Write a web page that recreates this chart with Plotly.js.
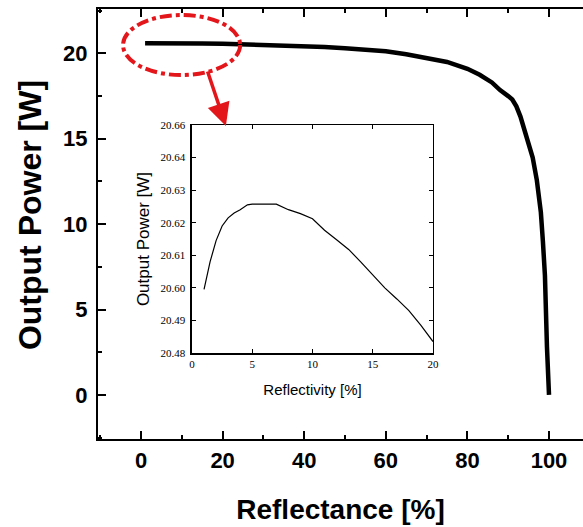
<!DOCTYPE html>
<html>
<head>
<meta charset="utf-8">
<script src="https://cdn.plot.ly/plotly-3.0.1.min.js"></script>
<style>html,body{margin:0;padding:0;background:#fff;}#chart{width:583px;height:527px;}</style>
</head>
<body>
<div id="chart"></div>
<script>
// Main curve: output power vs reflectance
const reflectance = [1, 5, 10, 15, 20, 25, 30, 35, 40, 45, 50, 55, 60, 65, 70, 75, 80, 83, 86, 88, 90, 91, 92, 93, 94, 95, 96, 97, 98, 98.5, 99, 99.5, 100];
const outputPower = [20.6, 20.61, 20.6, 20.58, 20.56, 20.53, 20.5, 20.47, 20.43, 20.38, 20.3, 20.22, 20.12, 19.95, 19.75, 19.5, 19.1, 18.75, 18.3, 17.85, 17.5, 17.3, 16.9, 16.3, 15.5, 14.7, 13.9, 12.6, 10.7, 9.0, 7.0, 2.8, 0];

// Inset: output power vs reflectivity (zoomed)
const reflectivity = [1, 1.5, 2, 2.5, 3, 3.5, 4, 4.6, 5, 6, 7, 8, 9, 10, 11, 12, 13, 14, 15, 16, 17, 18, 19, 20];
const insetPower = [20.5995, 20.608, 20.6145, 20.619, 20.6215, 20.623, 20.624, 20.6255, 20.6257, 20.6257, 20.6257, 20.624, 20.6228, 20.6212, 20.6177, 20.6148, 20.6118, 20.608, 20.604, 20.6, 20.5966, 20.593, 20.5885, 20.5835];

// Tick labels
const mainXTicks = [0, 20, 40, 60, 80, 100];
const mainYTicks = [0, 5, 10, 15, 20];
const insetXTicks = [0, 5, 10, 15, 20];
const insetYTickVals = [20.58, 20.59, 20.60, 20.61, 20.62, 20.63, 20.64, 20.65];
const insetYTickText = ["20.48", "20.49", "20.60", "20.61", "20.62", "20.63", "20.64", "20.66"];

const red = "#e3161b";
const sans = "Liberation Sans, Arial, sans-serif";

const traces = [
  {x: reflectance, y: outputPower, type: "scatter", mode: "lines",
   line: {color: "#000", width: 4.5}, xaxis: "x", yaxis: "y", hoverinfo: "skip"},
  {x: reflectivity, y: insetPower, type: "scatter", mode: "lines",
   line: {color: "#000", width: 1.2}, xaxis: "x2", yaxis: "y2", hoverinfo: "skip"}
];

const layout = {
  width: 583, height: 527,
  margin: {l: 98, r: 0, t: 9, b: 88},
  paper_bgcolor: "#fff", plot_bgcolor: "#fff",
  showlegend: false,
  font: {family: sans, color: "#000"},
  xaxis: {
    domain: [0, 1], range: [-10.54, 108.33],
    tickvals: mainXTicks, ticktext: mainXTicks.map(String),
    ticks: "inside", ticklen: 8, tickwidth: 2, tickcolor: "#000",
    minor: {dtick: 10, tick0: 0, ticks: "inside", ticklen: 4, tickwidth: 2, tickcolor: "#000"},
    showline: true, linewidth: 2, linecolor: "#000", mirror: "ticks",
    showgrid: false, zeroline: false,
    tickfont: {family: sans, size: 22, color: "#000", weight: "bold"},
    ticklabelstandoff: 1,
    title: {text: "<b>Reflectance [%]</b>", font: {family: sans, size: 28, color: "#000"}, standoff: 27}
  },
  yaxis: {
    domain: [0, 1], range: [-2.58, 22.6],
    tickvals: mainYTicks, ticktext: mainYTicks.map(String),
    ticks: "inside", ticklen: 8, tickwidth: 2, tickcolor: "#000",
    minor: {dtick: 2.5, tick0: 0, ticks: "inside", ticklen: 4, tickwidth: 2, tickcolor: "#000"},
    showline: true, linewidth: 2, linecolor: "#000", mirror: false,
    showgrid: false, zeroline: false,
    tickfont: {family: sans, size: 22, color: "#000", weight: "bold"},
    ticklabelstandoff: 4
  },
  xaxis2: {
    domain: [0.1938, 0.6907], anchor: "y2", range: [0, 20],
    tickvals: insetXTicks, ticktext: insetXTicks.map(String),
    ticks: "inside", ticklen: 4, tickwidth: 1.2, tickcolor: "#000",
    showline: true, linewidth: 1.5, linecolor: "#000", mirror: "ticks",
    showgrid: false, zeroline: false,
    tickfont: {family: "Liberation Serif, Times New Roman, serif", size: 11, color: "#000"},
    title: {text: "Reflectivity [%]", font: {family: sans, size: 15, color: "#000"}, standoff: 16}
  },
  yaxis2: {
    domain: [0.2, 0.7302], anchor: "x2", range: [20.58, 20.65],
    tickvals: insetYTickVals, ticktext: insetYTickText,
    ticks: "inside", ticklen: 4, tickwidth: 1.2, tickcolor: "#000",
    showline: true, linewidth: 1.5, linecolor: "#000", mirror: "ticks",
    showgrid: false, zeroline: false,
    tickfont: {family: "Liberation Serif, Times New Roman, serif", size: 11, color: "#000"},
    ticklabelstandoff: 3,
    title: {text: "Output Power [W]", font: {family: sans, size: 17, color: "#000"}, standoff: 6}
  },
  shapes: [
    {type: "circle", xref: "x", yref: "y", x0: -4.4, x1: 24.3, y0: 18.73, y1: 22.25,
     line: {color: red, width: 4, dash: "dashdot"}, layer: "above"}
  ],
  annotations: [
    {x: 20.8, y: 15.75, ax: 16.2, ay: 19.03, xref: "x", yref: "y", axref: "x", ayref: "y",
     text: "", showarrow: true, arrowhead: 2, arrowsize: 1.3, arrowwidth: 3.5, arrowcolor: red},
    {text: "<b>Output Power [W]</b>", xref: "paper", yref: "paper", x: -0.14, y: 0.521,
     xanchor: "center", yanchor: "middle", textangle: -90, showarrow: false,
     font: {family: sans, size: 32, color: "#000"}}
  ]
};

Plotly.newPlot("chart", traces, layout, {staticPlot: true, displayModeBar: false});
</script>
</body>
</html>
